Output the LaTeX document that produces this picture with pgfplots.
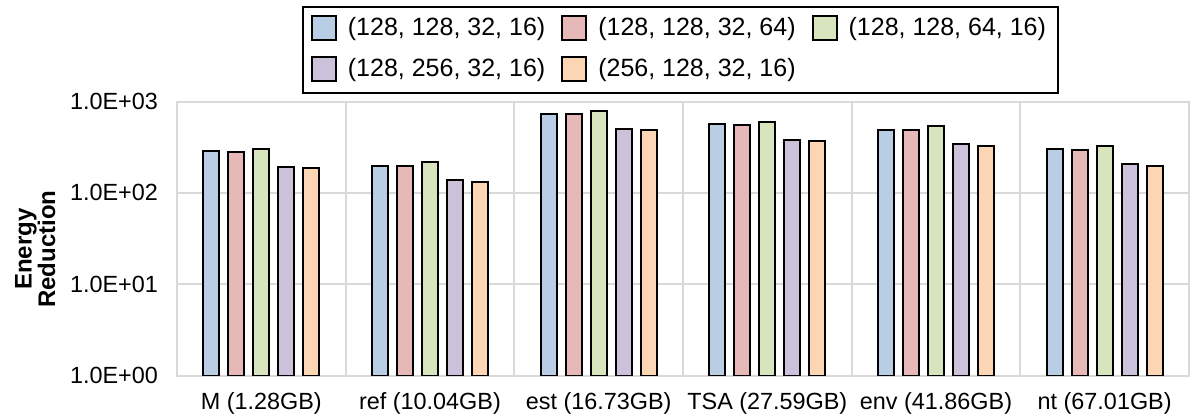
\documentclass[border=0pt]{standalone}
\usepackage{fontspec}
\setmainfont{Liberation Sans}
\usepackage{pgfplots}
\pgfplotsset{compat=1.18}
\definecolor{cA}{HTML}{B9CDE5}
\definecolor{cB}{HTML}{E6B9B8}
\definecolor{cC}{HTML}{D7E4BD}
\definecolor{cD}{HTML}{CCC1DA}
\definecolor{cE}{HTML}{FCD5B5}
\definecolor{gridc}{HTML}{D9D9D9}
\begin{document}
\begin{tikzpicture}
\begin{axis}[name=ax,
  width=506pt, height=137.1pt, scale only axis,
  ymode=log, ymin=1, ymax=1000, log origin=infty,
  xmin=-0.5, xmax=5.5,
  xtick={0,1,2,3,4,5},
  xticklabels={M (1.28GB), ref (10.04GB), est (16.73GB), TSA (27.59GB), env (41.86GB), nt (67.01GB)},
  minor xtick={0.5,1.5,2.5,3.5,4.5},
  xminorgrids, ymajorgrids,
  major tick length=0pt, minor tick length=0pt,
  ytick={1,10,100,1000},
  yticklabels={1.0E+00,1.0E+01,1.0E+02,1.0E+03},
  axis line style={draw=gridc, line width=1pt},
  grid style={draw=gridc, line width=1pt},
  minor grid style={draw=gridc, line width=1pt},
  tick label style={font=\fontsize{11.7}{13}\selectfont},
  yticklabel style={xshift=-6pt},
  xticklabel style={yshift=-5pt},
  ylabel={Energy\\Reduction},
  ylabel style={at={(axis description cs:-0.140,0.462)}, anchor=center, align=center, font=\bfseries\fontsize{12}{11.75}\selectfont},
  ybar=4.5pt, bar width=8pt,
  every axis plot/.append style={draw=black, line width=1pt},
  legend columns=3,
  legend cell align=left,
  legend image code/.code={\draw[#1, line width=1pt] (0pt,-5.5pt) rectangle (12pt,6.5pt); \path (15.5pt,0pt);},
  legend style={at={(axis description cs:0.4975,1.3485)}, anchor=north,
    draw=black, line width=1pt, inner xsep=4pt, inner ysep=1pt,
    font=\fontsize{12.5}{14}\selectfont,
    nodes={text height=9.5pt, text depth=3pt, inner ysep=4pt},
    /tikz/every even column/.append style={column sep=6pt}},
]
\addplot[fill=cA] coordinates {(0,287) (1,198) (2,731) (3,569) (4,493) (5,299)};
\addplot[fill=cB] coordinates {(0,280) (1,196) (2,726) (3,554) (4,484) (5,294)};
\addplot[fill=cC] coordinates {(0,305) (1,217) (2,789) (3,603) (4,536) (5,323)};
\addplot[fill=cD] coordinates {(0,193) (1,138) (2,501) (3,382) (4,340) (5,207)};
\addplot[fill=cE] coordinates {(0,188) (1,133) (2,489) (3,373) (4,328) (5,198)};
\legend{(128, 128, 32, 16),(128, 128, 32, 64),(128, 128, 64, 16),(128, 256, 32, 16),(256, 128, 32, 16)}
\end{axis}
\pgfresetboundingbox
\path[use as bounding box] ([xshift=-88.5pt,yshift=-21.65pt]ax.south west) rectangle ([xshift=2pt,yshift=50.75pt]ax.north east);
\end{tikzpicture}
\end{document}
